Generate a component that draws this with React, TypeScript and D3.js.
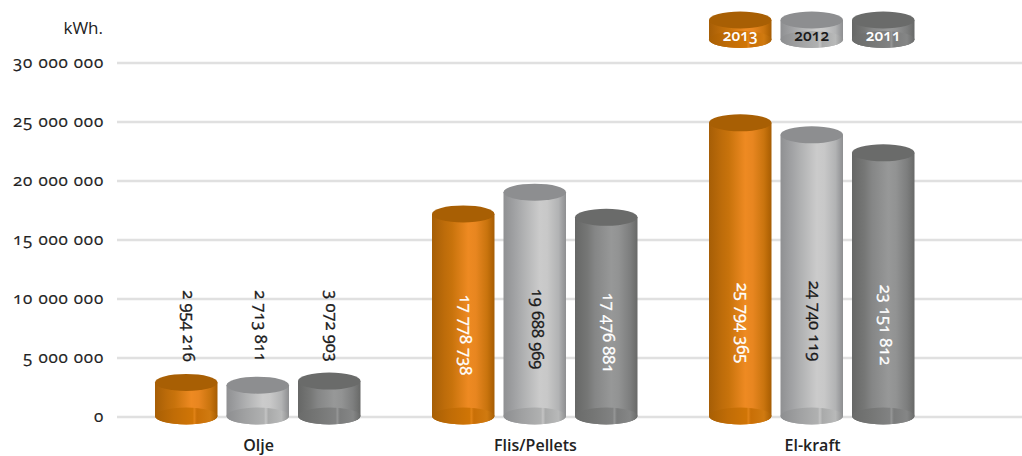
import React from 'react'
import * as d3 from 'd3'

const categories = ['Olje', 'Flis/Pellets', 'El-kraft']
const years = ['2013', '2012', '2011']
const values2013 = [2954216, 17778738, 25794365]
const values2012 = [2713811, 19688969, 24740119]
const values2011 = [3072903, 17476881, 23151812]
const yTicks = [0, 5000000, 10000000, 15000000, 20000000, 25000000, 30000000]

const series = [values2013, values2012, values2011]

const width = 1022
const height = 456
const FONT = '"Open Sans", "Noto Sans", sans-serif'
const NUMS: React.CSSProperties = { fontFeatureSettings: '"onum" 1', fontVariantNumeric: 'oldstyle-nums' }

// where the rotated labels sit, by series then category (label centre y)
const labelCentres = [
  [326, 335, 323],
  [326, 329, 321],
  [326, 333, 325],
]

const themes = [
  {
    id: 'orange',
    label: '#fff',
    top: '#a85f04',
    body: ['#a65e06', '#bd6c0a', '#c8730c', '#ee8a22', '#e88620', '#c9740e', '#b56606', '#a55d04'],
    base: ['#a85f04', '#c06c06', '#d07506', '#e08216', '#c96f06', '#d07a10', '#a85f04'],
  },
  {
    id: 'silver',
    label: '#1a1a1a',
    top: '#8d8e90',
    body: ['#8f9092', '#a3a4a6', '#b0b1b2', '#cbcbcb', '#c8c8c8', '#b2b3b4', '#9c9d9f', '#8e8f91'],
    base: ['#8d8e90', '#a0a1a2', '#b0b1b1', '#c4c4c4', '#a9aaaa', '#b8b9b9', '#8f9091'],
  },
  {
    id: 'grey',
    label: '#fff',
    top: '#6a6b6a',
    body: ['#666766', '#767776', '#858686', '#979898', '#929393', '#7d7e7e', '#717271', '#676867'],
    base: ['#6a6b6a', '#757675', '#818282', '#949595', '#7b7c7c', '#858686', '#6a6b6a'],
  },
]

const bodyStops = [0, 0.2, 0.32, 0.58, 0.7, 0.88, 0.95, 1]
const baseStops = [0, 0.3, 0.6, 0.63, 0.67, 0.88, 1]

// gridlines and bars do not share a baseline: the bars are drawn in fake 3D
const y = d3.scaleLinear().domain([0, 30000000]).range([417, 63])
const barY = d3.scaleLinear().domain([0, 30000000]).range([416, 75])
const x0 = d3.scaleBand().domain(categories).range([120, 951])
const x1 = d3.scaleBand().domain(years).range([35, 35 + 205.5]).paddingInner(0.126)

const RY = 8.5

const fmt = (v: number) => d3.format(',')(v).replace(/,/g, ' ')

function Cylinder({ cx, topY, baseY, rx, t }: { cx: number; topY: number; baseY: number; rx: number; t: number }) {
  const theme = themes[t]
  const side = `M${cx - rx},${topY} L${cx - rx},${baseY} A${rx},${RY} 0 0 0 ${cx + rx},${baseY} L${cx + rx},${topY} Z`
  return (
    <g>
      <path d={side} fill={`url(#body-${theme.id})`} />
      <ellipse cx={cx} cy={baseY} rx={rx} ry={RY} fill={`url(#base-${theme.id})`} />
      <ellipse cx={cx} cy={topY} rx={rx} ry={RY} fill={theme.top} />
    </g>
  )
}

export default function App() {
  const rx = x1.bandwidth() / 2
  return (
    <svg width={width} height={height} style={{ position: 'absolute', left: 0, top: 0 }} fontFamily={FONT}>
      <defs>
        {themes.map(th => (
          <React.Fragment key={th.id}>
            <linearGradient id={`body-${th.id}`}>
              {th.body.map((c, i) => <stop key={i} offset={bodyStops[i]} stopColor={c} />)}
            </linearGradient>
            <linearGradient id={`base-${th.id}`}>
              {th.base.map((c, i) => <stop key={i} offset={baseStops[i]} stopColor={c} />)}
            </linearGradient>
          </React.Fragment>
        ))}
      </defs>

      {yTicks.map(t => (
        <g key={t}>
          <line x1={117} x2={width} y1={y(t)} y2={y(t)} stroke="#e0e0e0" strokeWidth={2.5} />
          <text x={104} y={y(t) + 5} textAnchor="end" fontSize={17} letterSpacing={0.8} fill="#222" stroke="#222" strokeWidth={0.2} style={NUMS}>
            {fmt(t)}
          </text>
        </g>
      ))}
      <text x={103} y={34} textAnchor="end" fontSize={17} fill="#222">kWh.</text>

      {categories.map((cat, ci) => {
        return (
          <g key={cat}>
            {years.map((yr, si) => {
              const cx = x0(cat)! + x1(yr)! + rx
              const labelFill = ci === 0 ? '#1a1a1a' : themes[si].label
              return (
                <g key={yr}>
                  <Cylinder cx={cx} topY={barY(series[si][ci])} baseY={barY(0)} rx={rx} t={si} />
                  <text
                    transform={`translate(${cx - 3},${labelCentres[si][ci]}) rotate(90)`}
                    textAnchor="middle"
                    fontSize={16.5}
                    fill={labelFill}
                    stroke={labelFill}
                    strokeWidth={0.35}
                    style={NUMS}
                  >
                    {fmt(series[si][ci])}
                  </text>
                </g>
              )
            })}
            <text x={x0(cat)! + x0.bandwidth() / 2} y={451} textAnchor="middle" fontSize={16} fontWeight={600} fill="#222">
              {cat}
            </text>
          </g>
        )
      })}

      {years.map((yr, si) => {
        const cx = x0('El-kraft')! + x1(yr)! + rx
        return (
          <g key={yr}>
            <Cylinder cx={cx} topY={20} baseY={39.5} rx={rx} t={si} />
            <text x={cx} y={41} textAnchor="middle" fontSize={15.5} fontWeight={600} fill={themes[si].label} style={NUMS}>
              {yr}
            </text>
          </g>
        )
      })}
    </svg>
  )
}
